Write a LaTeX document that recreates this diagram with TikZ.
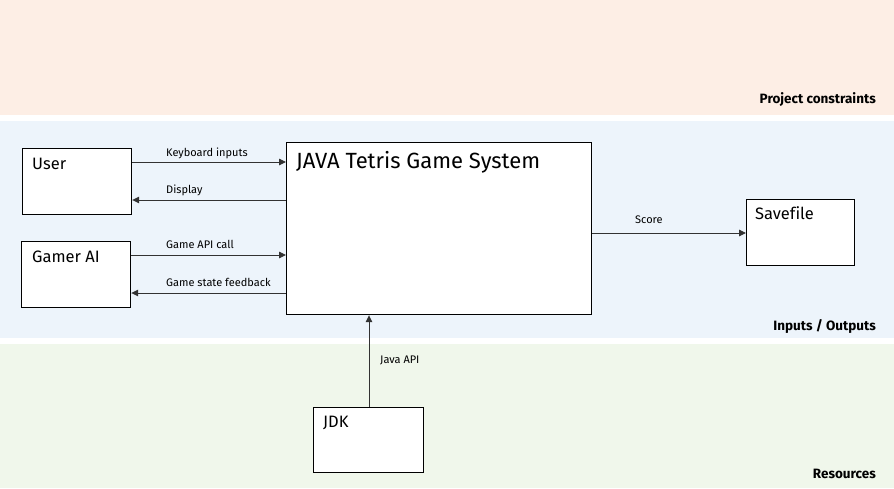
\documentclass[tikz,border=0pt]{standalone}
\usepackage{fontspec}
\setmainfont[Ligatures=NoCommon]{Fira Sans}
\usetikzlibrary{arrows.meta}
\definecolor{peach}{RGB}{253,238,229}
\definecolor{bluebg}{RGB}{237,244,251}
\definecolor{greenbg}{RGB}{240,247,235}
\definecolor{lineg}{RGB}{50,50,50}
\begin{document}
\begin{tikzpicture}[x=1pt,y=-1pt,
  box/.style={draw=black,line width=1.2pt,fill=white,inner sep=0pt,anchor=north west},
  boxtxt/.style={anchor=base west,inner sep=0pt,font=\fontsize{16.5}{19}\selectfont},
  lbl/.style={anchor=base west,inner sep=0pt,font=\fontsize{11}{13}\selectfont},
  bandlbl/.style={anchor=base east,inner sep=0pt,font=\bfseries\fontsize{13.5}{16}\selectfont},
  arr/.style={draw=lineg,line width=0.9pt,-{Triangle[length=7pt,width=6.5pt]}}]
\useasboundingbox (0,0) rectangle (894,488);
% bands
\fill[peach] (0,0) rectangle (894,115);
\fill[bluebg] (0,121) rectangle (894,338);
\fill[greenbg] (0,344) rectangle (894,488);
\node[bandlbl] (pc) at (876,103) {Project constraints};
\node[bandlbl] (io) at (876,330) {Inputs / Outputs};
\node[bandlbl] (res) at (876,478) {Resources};
% boxes
\node[box,minimum width=109pt,minimum height=66pt] (user) at (22,148) {};
\node[box,minimum width=109pt,minimum height=66pt] (ai) at (21,241) {};
\node[box,minimum width=305pt,minimum height=172pt] (main) at (286,142) {};
\node[box,minimum width=108pt,minimum height=66pt] (save) at (746,199) {};
\node[box,minimum width=110pt,minimum height=65pt] (jdk) at (313,407) {};
\node[boxtxt] (usert) at (32,169) {User};
\node[boxtxt] (ait) at (32,262) {Gamer AI};
\node[boxtxt,font=\fontsize{22}{26}\selectfont] (maint) at (296,168) {JAVA Tetris Game System};
\node[boxtxt] (savet) at (755,219) {Savefile};
\node[boxtxt] (jdkt) at (323,427) {JDK};
% connectors
\draw[arr] (user.east |- 0,162) -- (main.west |- 0,162);
\draw[arr] (main.west |- 0,200) -- (user.east |- 0,200);
\draw[arr] (ai.east |- 0,255) -- (main.west |- 0,255);
\draw[arr] (main.west |- 0,293) -- (ai.east |- 0,293);
\draw[arr] (main.east |- 0,233) -- (save.west |- 0,233);
\draw[arr] (jdk.north -| 369,0) -- (main.south -| 369,0);
% labels
\node[lbl] (l1) at (166,156) {Keyboard inputs};
\node[lbl] (l2) at (166,193) {Display};
\node[lbl] (l3) at (166,248) {Game API call};
\node[lbl] (l4) at (166,286) {Game state feedback};
\node[lbl] (l5) at (635,223) {Score};
\node[lbl] (l6) at (380,363) {Java API};
\end{tikzpicture}
\end{document}
